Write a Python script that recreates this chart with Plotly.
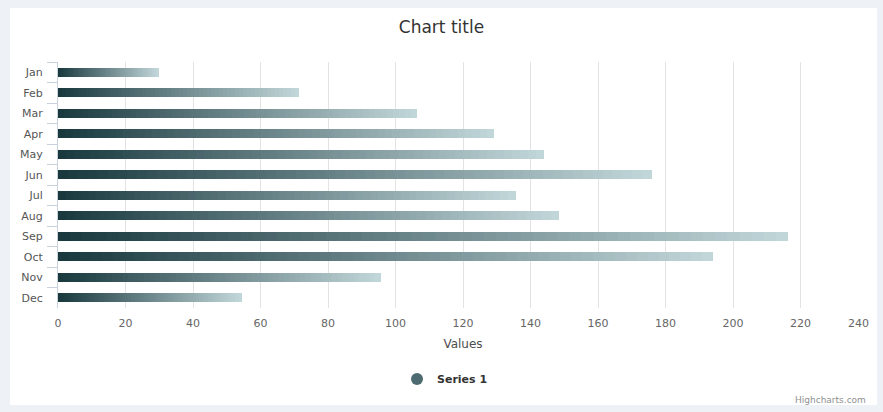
import plotly.graph_objects as go

months = ["Jan", "Feb", "Mar", "Apr", "May", "Jun", "Jul", "Aug", "Sep", "Oct", "Nov", "Dec"]
values = [29.9, 71.5, 106.4, 129.2, 144.0, 176.0, 135.6, 148.5, 216.4, 194.1, 95.6, 54.4]
x_ticks = [0, 20, 40, 60, 80, 100, 120, 140, 160, 180, 200, 220, 240]
series_name = "Series 1"

dark = (24, 56, 62)
light = (194, 215, 218)
N = 60

def mix(t):
    return "rgb(%d,%d,%d)" % tuple(round(a + (b - a) * t) for a, b in zip(dark, light))

fig = go.Figure()
for i in range(N):
    t = (i + 0.5) / N
    fig.add_trace(go.Bar(
        y=months, x=[v / N for v in values], orientation="h",
        marker=dict(color=mix(t), line=dict(width=0)),
        width=0.45, showlegend=False, hoverinfo="skip",
    ))

fig.add_trace(go.Scatter(
    x=[None], y=[None], mode="markers", name="<b>" + series_name + "</b>",
    marker=dict(symbol="circle", size=12, color="#4d6a70"),
    showlegend=True,
))

# panel geometry (plot area 58..868 x, 62..308 y)
L, R, T, B = 58, 15, 62, 104
W, H = 883, 412
pw, ph = W - L - R, H - T - B
def px(x): return (x - L) / pw
def py(y): return (H - B - y) / ph

fig.add_shape(type="rect", xref="paper", yref="paper",
              x0=px(10), x1=px(877), y0=py(405), y1=py(8),
              fillcolor="white", line=dict(width=0), layer="below")

tick_text = [str(v) for v in x_ticks[:-1]] + [""]

fig.update_layout(
    width=W, height=H,
    margin=dict(l=L, r=R, t=T, b=B, autoexpand=False),
    paper_bgcolor="#eef1f5", plot_bgcolor="rgba(0,0,0,0)",
    barmode="stack", bargap=0,
    font=dict(family="DejaVu Sans", color="#666666", size=11),
    title=dict(text="Chart title", x=0.5, xref="container", xanchor="center",
               y=1 - 27 / H, yanchor="middle",
               font=dict(family="DejaVu Sans", size=17, color="#333333")),
    xaxis=dict(range=[0, 240], tickvals=x_ticks, ticktext=tick_text, automargin=False,
               showgrid=True, gridcolor="#e3e3e3",
               gridwidth=1, zeroline=False, showline=False,
               ticks="outside", ticklen=5, tickcolor="rgba(0,0,0,0)",
               tickfont=dict(size=11, color="#666666"),
               title=dict(text="Values", font=dict(size=12, color="#4d4d4d"), standoff=10)),
    yaxis=dict(type="category", categoryorder="array", categoryarray=months,
               autorange="reversed", showgrid=False, zeroline=False, automargin=False,
               showline=True, linecolor="#c8d2dc", linewidth=1,
               ticks="outside", tickson="boundaries", ticklen=10, tickcolor="#c8d2dc",
               ticklabelstandoff=12,
               tickfont=dict(size=11, color="#555555")),
    legend=dict(orientation="h", x=px(397), xanchor="left", y=py(379), yanchor="middle",
                font=dict(size=11, color="#333333", family="DejaVu Sans"),
                bgcolor="rgba(0,0,0,0)"),
    annotations=[
        dict(text="Highcharts.com", xref="paper", yref="paper",
             x=px(868), y=py(400), xanchor="right", yanchor="middle",
             showarrow=False, font=dict(size=9, color="#909090")),
        dict(text=str(x_ticks[-1]), xref="paper", yref="paper",
             x=px(858), y=py(323), xanchor="center", yanchor="middle",
             showarrow=False, font=dict(size=11, color="#666666")),
    ],
)

fig.write_html("out.html")
